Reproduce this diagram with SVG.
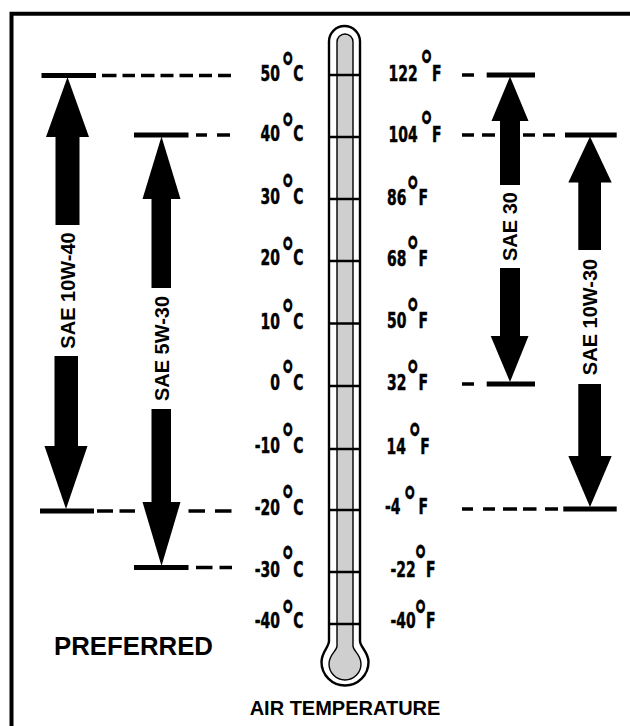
<svg xmlns="http://www.w3.org/2000/svg" width="630" height="726" viewBox="0 0 630 726">
<style>
.n{font-family:"DejaVu Sans","Liberation Sans",sans-serif;font-weight:bold;font-size:20.5px;fill:#000;stroke:#000;stroke-width:0.5}
.dg{font-size:40px;stroke-width:0.3}
.lbl{font-family:"Liberation Sans",Arial,sans-serif;font-weight:bold;font-size:20px;fill:#000}
.big{font-family:"Liberation Sans",Arial,sans-serif;font-weight:bold;font-size:25.5px;fill:#000}
.tick{stroke:#000;stroke-width:2.5}
.dash{fill:none;stroke:#000;stroke-width:3.5}
.ar{fill:#000}
</style>
<rect width="630" height="726" fill="#fff"/>
<path d="M11.5,726 V13.7 H630" fill="none" stroke="#000" stroke-width="4"/>

<g id="connectors">
<path class="dash" d="M102,75.5h14.5 M122.5,75.5h12.5 M141,75.5h13.5 M160.5,75.5h13 M179.5,75.5h13.5 M199,75.5h13 M218,75.5h13
M196,135h11 M217,135h13
M97,511h16 M119.5,511h15.5 M188.5,511h16.5 M215,511h16.5
M196,567.5h16.5 M219.5,567.5h12.5
M462,75h12
M462,135h12 M482,135h13 M502,135h13 M523,135h12 M543,135h12
M462,384h12
M462,509h11 M483,509h12 M503,509h14 M523,509h13.5 M545,509h13"/>
</g>

<g id="thermometer">
<path d="M329,641 C329,647 321.5,652 321.5,662 A23.5,23.5 0 0 0 368.5,662 C368.5,652 360,647 360,641 L360,41.5 A15.5,15.5 0 0 0 329,41.5 Z" fill="#fff" stroke="#000" stroke-width="2.4"/>
<path d="M337,646 C337,651 329,654 329,664 A16,16 0 0 0 361,664 C361,654 353,651 353,646 L353,42 A8,8 0 0 0 337,42 Z" fill="#cfcfcf" stroke="#000" stroke-width="1.4"/>
<line class="tick" x1="329" y1="75" x2="360" y2="75"/>
<line class="tick" x1="329" y1="137" x2="360" y2="137"/>
<line class="tick" x1="329" y1="199" x2="360" y2="199"/>
<line class="tick" x1="329" y1="261" x2="360" y2="261"/>
<line class="tick" x1="329" y1="323.5" x2="360" y2="323.5"/>
<line class="tick" x1="329" y1="386" x2="360" y2="386"/>
<line class="tick" x1="329" y1="449" x2="360" y2="449"/>
<line class="tick" x1="329" y1="510" x2="360" y2="510"/>
<line class="tick" x1="329" y1="572" x2="360" y2="572"/>
<line class="tick" x1="329" y1="624" x2="360" y2="624"/>
</g>

<g id="celsius">
<text class="n" transform="translate(260.5,81) scale(0.68,1)">50<tspan class="dg" dx="1.7" dy="0.7">°</tspan><tspan dx="-2" dy="-0.7">C</tspan></text>
<text class="n" transform="translate(260.5,141) scale(0.68,1)">40<tspan class="dg" dx="1.7" dy="1.6">°</tspan><tspan dx="-2" dy="-1.6">C</tspan></text>
<text class="n" transform="translate(260.5,204) scale(0.68,1)">30<tspan class="dg" dx="1.7" dy="0.1">°</tspan><tspan dx="-2" dy="-0.1">C</tspan></text>
<text class="n" transform="translate(260.5,265) scale(0.68,1)">20<tspan class="dg" dx="1.7" dy="1.6">°</tspan><tspan dx="-2" dy="-1.6">C</tspan></text>
<text class="n" transform="translate(260.5,329) scale(0.68,1)">10<tspan class="dg" dx="1.7" dy="0.1">°</tspan><tspan dx="-2" dy="-0.1">C</tspan></text>
<text class="n" transform="translate(270.2,390) scale(0.68,1)">0<tspan class="dg" dx="1.7" dy="0.1">°</tspan><tspan dx="-2" dy="-0.1">C</tspan></text>
<text class="n" transform="translate(254.7,453) scale(0.68,1)">-10<tspan class="dg" dx="1.7" dy="0.1">°</tspan><tspan dx="-2" dy="-0.1">C</tspan></text>
<text class="n" transform="translate(254.7,515) scale(0.68,1)">-20<tspan class="dg" dx="1.7" dy="-0.4">°</tspan><tspan dx="-2" dy="0.4">C</tspan></text>
<text class="n" transform="translate(254.7,577) scale(0.68,1)">-30<tspan class="dg" dx="1.7" dy="-1.4">°</tspan><tspan dx="-2" dy="1.4">C</tspan></text>
<text class="n" transform="translate(254.7,628) scale(0.68,1)">-40<tspan class="dg" dx="1.7" dy="1.6">°</tspan><tspan dx="-2" dy="-1.6">C</tspan></text>
</g>

<g id="fahrenheit">
<text class="n" transform="translate(388.6,81) scale(0.68,1)">122<tspan class="dg" dx="3" dy="-0.9">°</tspan><tspan dx="-2" dy="0.9">F</tspan></text>
<text class="n" transform="translate(388.6,142) scale(0.68,1)">104<tspan class="dg" dx="3" dy="-1.4">°</tspan><tspan dx="-2" dy="1.4">F</tspan></text>
<text class="n" transform="translate(387.1,205) scale(0.68,1)">86<tspan class="dg" dx="-0.6" dy="0.6">°</tspan><tspan dx="-1.8" dy="-0.6">F</tspan></text>
<text class="n" transform="translate(387.1,266) scale(0.68,1)">68<tspan class="dg" dx="-0.6" dy="0.1">°</tspan><tspan dx="-1.8" dy="-0.1">F</tspan></text>
<text class="n" transform="translate(387.1,328) scale(0.68,1)">50<tspan class="dg" dx="-0.6" dy="0.1">°</tspan><tspan dx="-1.8" dy="-0.1">F</tspan></text>
<text class="n" transform="translate(387.1,390) scale(0.68,1)">32<tspan class="dg" dx="-0.6" dy="0.1">°</tspan><tspan dx="-1.8" dy="-0.1">F</tspan></text>
<text class="n" transform="translate(386.6,454) scale(0.68,1)">14<tspan class="dg" dx="3" dy="-0.9">°</tspan><tspan dx="-2" dy="0.9">F</tspan></text>
<text class="n" transform="translate(385,514) scale(0.68,1)">-4<tspan class="dg" dx="3.8" dy="1.6">°</tspan><tspan dx="2.8" dy="-1.6">F</tspan></text>
<text class="n" transform="translate(390.5,577) scale(0.68,1)">-22<tspan class="dg" dx="-2.8" dy="-1.9">°</tspan><tspan dx="-2" dy="1.9">F</tspan></text>
<text class="n" transform="translate(390.5,628) scale(0.68,1)">-40<tspan class="dg" dx="-2.8" dy="1.6">°</tspan><tspan dx="-2" dy="-1.6">F</tspan></text>
</g>

<g id="sae-10w-40">
<rect class="ar" x="41.5" y="73" width="54.5" height="5"/>
<polygon class="ar" points="67.5,77 89,137 46,137"/>
<rect class="ar" x="55.5" y="136.5" width="24" height="88.5"/>
<text class="lbl" transform="translate(67.5,290.5) rotate(-90)" x="0" y="7.2" text-anchor="middle">SAE 10W-40</text>
<rect class="ar" x="54.5" y="356" width="23.5" height="90.5"/>
<polygon class="ar" points="44.5,446 87.5,446 66,509"/>
<rect class="ar" x="40" y="508.5" width="54" height="5"/>
</g>

<g id="sae-5w-30">
<rect class="ar" x="134" y="132.5" width="54.5" height="5"/>
<polygon class="ar" points="161.5,136.5 180.5,199 142.5,199"/>
<rect class="ar" x="151.5" y="198.5" width="19.5" height="89.5"/>
<text class="lbl" transform="translate(161.5,348.5) rotate(-90)" x="0" y="7.2" text-anchor="middle">SAE 5W-30</text>
<rect class="ar" x="151.5" y="409" width="19.5" height="93.5"/>
<polygon class="ar" points="142.5,502 180.5,502 161.5,566"/>
<rect class="ar" x="134" y="565" width="54.5" height="5"/>
</g>

<g id="sae-30">
<rect class="ar" x="486.7" y="72.5" width="48.3" height="5"/>
<polygon class="ar" points="510,76.5 528.5,121 491.5,121"/>
<rect class="ar" x="500" y="120.5" width="20" height="64.5"/>
<text class="lbl" transform="translate(510,226.5) rotate(-90)" x="0" y="7.2" text-anchor="middle">SAE 30</text>
<rect class="ar" x="500" y="268" width="20" height="68.5"/>
<polygon class="ar" points="490.7,336 528.5,336 510,382"/>
<rect class="ar" x="486.7" y="381.5" width="48.3" height="5"/>
</g>

<g id="sae-10w-30">
<rect class="ar" x="565" y="132.5" width="51.7" height="5"/>
<polygon class="ar" points="590,136.5 611.7,182.5 568.3,182.5"/>
<rect class="ar" x="578.3" y="182" width="22.7" height="68"/>
<text class="lbl" transform="translate(590,317) rotate(-90)" x="0" y="7.2" text-anchor="middle">SAE 10W-30</text>
<rect class="ar" x="578.3" y="384" width="22.7" height="72.5"/>
<polygon class="ar" points="568.3,456 611.7,456 590,507"/>
<rect class="ar" x="563.3" y="506.5" width="53.4" height="5"/>
</g>

<g id="captions">
<text class="big" x="54" y="655" textLength="159" lengthAdjust="spacingAndGlyphs">PREFERRED</text>
<text class="lbl" x="345" y="715" text-anchor="middle" font-size="20.5">AIR TEMPERATURE</text>
</g>
</svg>
